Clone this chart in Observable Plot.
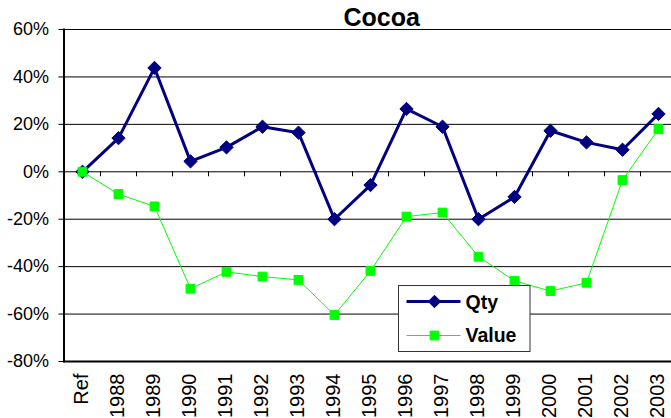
<!DOCTYPE html>
<html>
<head>
<meta charset="utf-8">
<script src="https://cdn.jsdelivr.net/npm/d3@7"></script>
<script src="https://cdn.jsdelivr.net/npm/@observablehq/plot@0.6"></script>
<style>
  html, body { margin: 0; padding: 0; background: #fff; }
  #chart { width: 671px; height: 418px; overflow: hidden; }
</style>
</head>
<body>
<div id="chart"></div>
<script>
const categories = ["Ref","1988","1989","1990","1991","1992","1993","1994","1995","1996","1997","1998","1999","2000","2001","2002","2003"];
const qty   = [0, 14.2, 43.8, 4.4, 10.3, 19.0, 16.5, -20.0, -5.6, 26.5, 19.0, -20.0, -10.6, 17.3, 12.4, 9.3, 24.4];
const value = [0, -9.4, -14.6, -49.3, -42.2, -44.2, -45.6, -60.4, -41.8, -18.9, -17.2, -35.8, -46.0, -50.3, -46.8, -3.5, 18.0];
const yTicks = [60, 40, 20, 0, -20, -40, -60, -80];
const title = "Cocoa";
const seriesNames = ["Qty", "Value"];

const qtyData = categories.map((c, i) => ({cat: c, v: qty[i]}));
const valData = categories.map((c, i) => ({cat: c, v: value[i]}));

const NAVY = "#000080", LIME = "#00ff00";
const font = "'Liberation Sans', Arial, sans-serif";

const chart = Plot.plot({
  width: 671,
  height: 418,
  marginLeft: 63.5,
  marginRight: 0,
  marginTop: 29,
  marginBottom: 57,
  style: {fontFamily: font, fontSize: "18px", background: "#fff", color: "#000", overflow: "hidden"},
  x: {type: "point", domain: categories, range: [81.7, 658.3], padding: 0, label: null},
  y: {domain: [-80, 60], label: null},
  marks: [
    Plot.ruleY(yTicks.filter(d => d !== -80), {stroke: "#000", strokeWidth: 1}),
    Plot.ruleY([-80], {stroke: "#000", strokeWidth: 2}),
    Plot.frame({anchor: "left", stroke: "#000", strokeWidth: 2}),
    Plot.ruleX(categories.slice(1), {x: d => d, y1: 0, y2: 0, dx: -18, insetBottom: -5, stroke: "#000"}),
    Plot.axisY({ticks: yTicks, tickSize: 5, tickPadding: 10, tickFormat: d => d + "%", fontSize: 18, stroke: "#000", label: null}),
    Plot.axisX({anchor: "bottom", tickSize: 0, tickPadding: 12, tickRotate: -90, fontSize: 20, dx: -1, label: null}),
    Plot.line(qtyData, {x: "cat", y: "v", stroke: NAVY, strokeWidth: 3}),
    Plot.dot(qtyData, {x: "cat", y: "v", symbol: "diamond2", r: 6, fill: NAVY, stroke: NAVY, strokeWidth: 1}),
    Plot.line(valData, {x: "cat", y: "v", stroke: LIME, strokeWidth: 1}),
    Plot.dot(valData, {x: "cat", y: "v", symbol: "square", r: 5, fill: LIME, stroke: LIME, strokeWidth: 1})
  ]
});

document.getElementById("chart").appendChild(chart);

const svg = d3.select(chart);
svg.append("text")
  .attr("x", 381.7).attr("y", 26)
  .attr("text-anchor", "middle")
  .attr("font-family", font).attr("font-weight", "bold").attr("font-size", 25)
  .attr("fill", "#000")
  .text(title);

// legend
const lg = svg.append("g").attr("transform", "translate(398.5,285.5)").attr("text-anchor", "start");
lg.append("rect").attr("width", 131.5).attr("height", 66).attr("fill", "#fff").attr("stroke", "#333").attr("stroke-width", 1);
// Qty
lg.append("line").attr("x1", 8).attr("x2", 62).attr("y1", 16).attr("y2", 16).attr("stroke", NAVY).attr("stroke-width", 3);
lg.append("path").attr("transform", "translate(36,16)").attr("d", d3.symbol(d3.symbolDiamond2, 100)()).attr("fill", NAVY).attr("stroke", NAVY);
lg.append("text").attr("x", 67).attr("y", 23).attr("text-anchor", "start").attr("font-family", font).attr("font-weight", "bold").attr("font-size", 19.5).attr("fill", "#000").text(seriesNames[0]);
// Value
lg.append("line").attr("x1", 8).attr("x2", 62).attr("y1", 50).attr("y2", 50).attr("stroke", LIME).attr("stroke-width", 1);
lg.append("path").attr("transform", "translate(36,50)").attr("d", d3.symbol(d3.symbolSquare, 78)()).attr("fill", LIME).attr("stroke", LIME);
lg.append("text").attr("x", 67).attr("y", 56).attr("text-anchor", "start").attr("font-family", font).attr("font-weight", "bold").attr("font-size", 19.5).attr("fill", "#000").text(seriesNames[1]);
</script>
</body>
</html>
